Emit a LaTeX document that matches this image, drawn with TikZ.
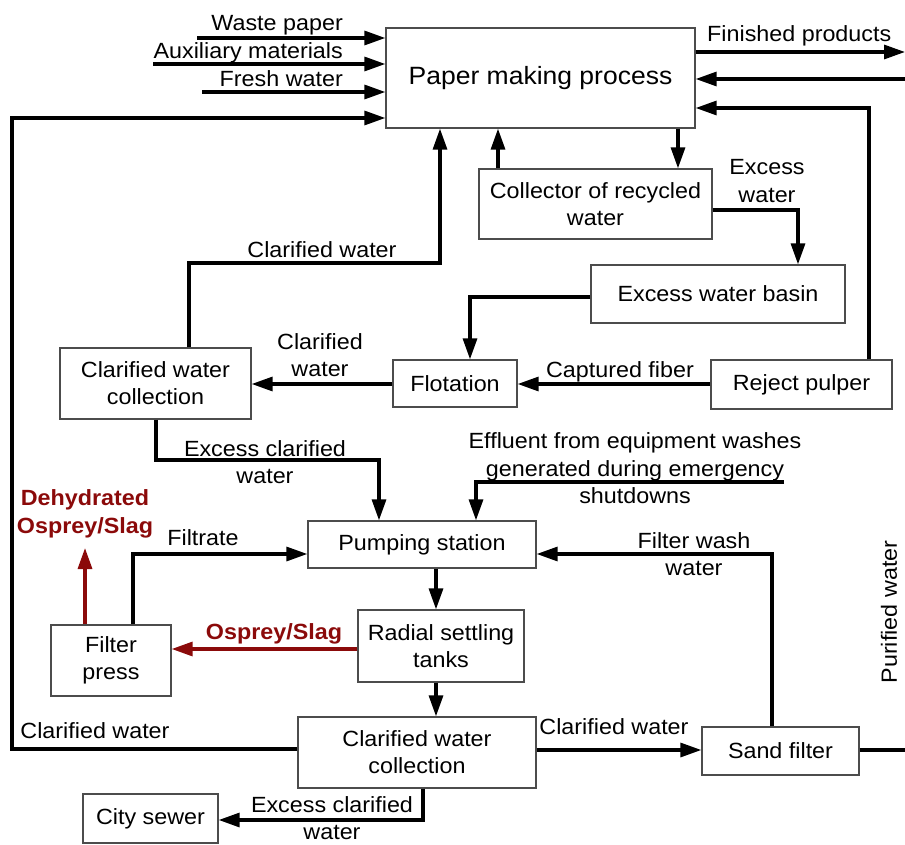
\documentclass[tikz,border=0pt]{standalone}
\usepackage{fontspec}
\setmainfont{Liberation Sans}[FakeStretch=1.06]
\usetikzlibrary{arrows.meta}
\definecolor{slag}{RGB}{139,10,10}
\begin{document}
\begin{tikzpicture}[x=1pt,y=-1pt,
  box/.style={draw=black!70, line width=1.3pt, fill=white, align=center, inner sep=0pt,
    font=\fontsize{22}{27}\selectfont},
  flow/.style={line width=3.2pt, -{Triangle[length=21pt,width=14pt]}},
  plain/.style={line width=3.2pt},
  lbl/.style={font=\fontsize{22}{27.5}\selectfont, align=center, inner sep=0pt},
  rlbl/.style={font=\fontsize{22}{27.5}\selectfont\bfseries, text=slag, align=center, inner sep=0pt}]
\useasboundingbox (0,0) rectangle (905,845);

% boxes
\node[box, minimum width=309pt, minimum height=100pt, font=\fontsize{25}{30}\selectfont] (paper) at (540.5,78) {Paper making process};
\node[box, minimum width=233pt, minimum height=70pt] (coll) at (595.5,204) {Collector of recycled\\water};
\node[box, minimum width=254pt, minimum height=58pt] (basin) at (718,294) {Excess water basin};
\node[box, minimum width=124pt, minimum height=47pt] (flot) at (455,383.5) {Flotation};
\node[box, minimum width=181pt, minimum height=49pt] (reject) at (801.5,384.5) {Reject pulper};
\node[box, minimum width=191pt, minimum height=71pt] (cwc1) at (155.5,383.5) {Clarified water\\collection};
\node[box, minimum width=228pt, minimum height=47pt] (pump) at (422,544.5) {Pumping station};
\node[box, minimum width=166pt, minimum height=72pt] (radial) at (441,646) {Radial settling\\tanks};
\node[box, minimum width=238pt, minimum height=71pt] (cwc2) at (417,752.5) {Clarified water\\collection};
\node[box, minimum width=120pt, minimum height=71pt] (fpress) at (111,660.5) {Filter\\press};
\node[box, minimum width=157pt, minimum height=48pt] (sand) at (780.5,751) {Sand filter};
\node[box, minimum width=135pt, minimum height=49pt] (sewer) at (150.5,818.5) {City sewer};

% coordinates
\coordinate (wp) at (197,38);
\coordinate (aux) at (153,64);
\coordinate (fw) at (202,92);
\coordinate (lb) at (12,749);
\coordinate (lt) at (12,118);
\coordinate (fpE) at (905,52);
\coordinate (retE) at (905,79);
\coordinate (rpx) at (869,108);
\coordinate (cwa) at (189,263);
\coordinate (cwt) at (440,263);
\coordinate (cu) at (498,0);
\coordinate (pd) at (678,0);
\coordinate (ew) at (798,210);
\coordinate (bf) at (470,297);
\coordinate (cfy) at (0,384);
\coordinate (ec1) at (156,460);
\coordinate (ec2) at (379,460);
\coordinate (effS) at (784,482);
\coordinate (effC) at (476,482);
\coordinate (ft) at (133,554);
\coordinate (fw2) at (772,554);
\coordinate (pr) at (436,0);
\coordinate (os) at (0,649);
\coordinate (dh) at (85,548);
\coordinate (cs) at (0,750);
\coordinate (sE) at (905,750);
\coordinate (sw) at (423,820);

% connectors
\draw[flow] (wp) -- (paper.west |- wp);
\draw[flow] (aux) -- (paper.west |- aux);
\draw[flow] (fw) -- (paper.west |- fw);
\draw[flow] (cwc2.west |- lb) -- (lb) -- (lt) -- (paper.west |- lt);
\draw[flow] (paper.east |- fpE) -- (fpE);
\draw[flow] (retE) -- (paper.east |- retE);
\draw[flow] (reject.north -| rpx) -- (rpx) -- (paper.east |- rpx);
\draw[flow] (cwc1.north -| cwa) -- (cwa) -- (cwt) -- (paper.south -| cwt);
\draw[flow] (coll.north -| cu) -- (paper.south -| cu);
\draw[flow] (paper.south -| pd) -- (coll.north -| pd);
\draw[flow] (coll.east |- ew) -- (ew) -- (basin.north -| ew);
\draw[flow] (basin.west |- bf) -- (bf) -- (flot.north -| bf);
\draw[flow] (reject.west |- cfy) -- (flot.east |- cfy);
\draw[flow] (flot.west |- cfy) -- (cwc1.east |- cfy);
\draw[flow] (cwc1.south -| ec1) -- (ec1) -- (ec2) -- (pump.north -| ec2);
\draw[flow] (effS) -- (effC) -- (pump.north -| effC);
\draw[flow] (fpress.north -| ft) -- (ft) -- (pump.west |- ft);
\draw[flow] (sand.north -| fw2) -- (fw2) -- (pump.east |- fw2);
\draw[flow] (pump.south -| pr) -- (radial.north -| pr);
\draw[flow] (radial.south -| pr) -- (cwc2.north -| pr);
\draw[flow, draw=slag, fill=slag] (radial.west |- os) -- (fpress.east |- os);
\draw[flow, draw=slag, fill=slag] (fpress.north -| dh) -- (dh);
\draw[flow] (cwc2.east |- cs) -- (sand.west |- cs);
\draw[plain] (sand.east |- cs) -- (sE);
\draw[flow] (cwc2.south -| sw) -- (sw) -- (sewer.east |- sw);

% labels
\node[lbl, anchor=base east] (lwp) at (343,31) {Waste paper};
\node[lbl, anchor=base east] (laux) at (343,59) {Auxiliary materials};
\node[lbl, anchor=base east] (lfw) at (343,87) {Fresh water};
\node[lbl, anchor=base west] (lfp) at (707,42) {Finished products};
\node[lbl] (lew) at (767,181) {Excess\\water};
\node[lbl, anchor=base] (lcw1) at (322,258) {Clarified water};
\node[lbl] (lcw2) at (320,355) {Clarified\\water};
\node[lbl, anchor=base] (lcf) at (620,377) {Captured fiber};
\node[lbl] (lecw1) at (265,462) {Excess clarified\\water};
\node[lbl] (leff) at (635,468.5) {Effluent from equipment washes\\generated during emergency\\shutdowns};
\node[lbl, anchor=base] (lft) at (203,545) {Filtrate};
\node[lbl] (lfww) at (694,554) {Filter wash\\water};
\node[rlbl] (ldh) at (85,514) {Dehydrated\\Osprey/Slag};
\node[rlbl, anchor=base] (los) at (274,639) {Osprey/Slag};
\node[lbl, anchor=base] (lcw3) at (95,738) {Clarified water};
\node[lbl, anchor=base] (lcw4) at (614,734) {Clarified water};
\node[lbl] (lecw2) at (332,818) {Excess clarified\\water};
\node[lbl, rotate=90] (lpw) at (889,612) {Purified water};
\end{tikzpicture}
\end{document}
